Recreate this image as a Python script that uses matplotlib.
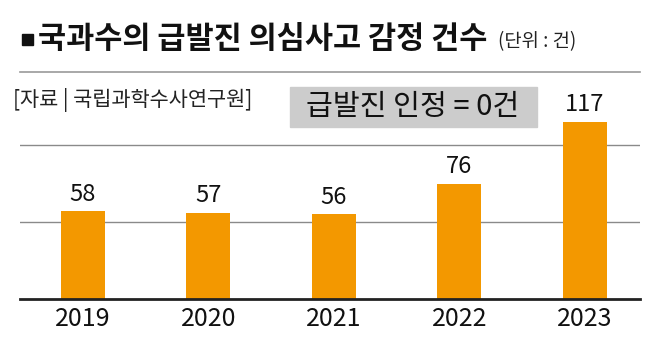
import matplotlib.pyplot as plt
import matplotlib.patches as mpatches

plt.rcParams['font.family'] = ['Noto Sans CJK KR', 'DejaVu Sans']

# data
years = ['2019', '2020', '2021', '2022', '2023']
cases = [58, 57, 56, 76, 117]

title = '국과수의 급발진 의심사고 감정 건수'
unit = '(단위 : 건)'
source = '[자료 | 국립과학수사연구원]'
note = '급발진 인정 = 0건'

W, H = 658, 350
fig = plt.figure(figsize=(W / 100, H / 100), dpi=100)

# axes: x 20..640 px, baseline at y=299, 1 unit ~ 1.5 px
bottom = 299
top = 122
ax = fig.add_axes([20 / W, 1 - bottom / H, 620 / W, (bottom - top) / H])
x = list(range(len(years)))
ax.bar(x, cases, width=0.35, color='#F39800', zorder=2)
ax.set_xlim(-0.5, 4.44)
ax.set_ylim(0, 117)

for yv in (51, 102):
    ax.axhline(yv, color='#8a8a8a', lw=1.0, zorder=1)
ax.axhline(0, color='#222222', lw=2.0, zorder=3, clip_on=False)

for xi, v in zip(x, cases):
    ax.annotate(str(v), (xi, v), xytext=(0, 4), textcoords='offset points',
                ha='center', va='bottom', fontsize=17, color='#111111',
                annotation_clip=False)

ax.set_xticks(x)
ax.set_xticklabels(years, fontsize=18, color='#111111')
ax.tick_params(axis='x', length=0, pad=5)
ax.set_yticks([])
for s in ax.spines.values():
    s.set_visible(False)

# header
fig.patches.append(mpatches.Rectangle((22 / W, 1 - 45 / H), 11 / W, 11 / H,
                                      transform=fig.transFigure, color='#111111'))
fig.text(38 / W, 1 - 39 / H, title, fontsize=22, fontweight='bold',
         color='#111111', va='center', ha='left')
fig.text(498 / W, 1 - 42 / H, unit, fontsize=13.5, color='#222222',
         va='center', ha='left')
fig.add_artist(plt.Line2D([20 / W, 640 / W], [1 - 72 / H, 1 - 72 / H],
                          transform=fig.transFigure, color='#999999', lw=1.2))
fig.text(13 / W, 1 - 100 / H, source, fontsize=15, color='#222222',
         va='center', ha='left')

# note box
fig.patches.append(mpatches.Rectangle((290 / W, 1 - 127 / H), 247 / W, 40 / H,
                                      transform=fig.transFigure, color='#cccccc'))
fig.text(413 / W, 1 - 107 / H, note, fontsize=21, color='#111111',
         va='center', ha='center')

fig.savefig('out.png', dpi=100)
